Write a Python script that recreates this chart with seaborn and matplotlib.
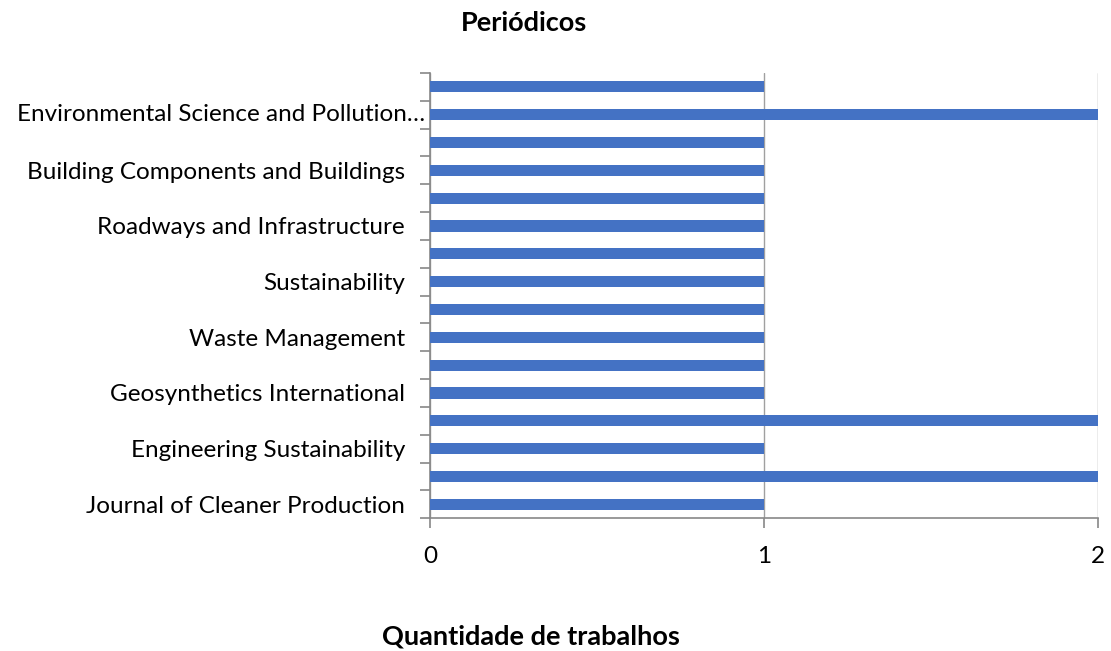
import pandas as pd
import numpy as np
import matplotlib
matplotlib.use('Agg')
import matplotlib.pyplot as plt
import seaborn as sns

# categories top to bottom (Excel only shows every other label)
journals = ['(oculto 1)', 'Environmental Science and Pollution…', '(oculto 2)',
            'Building Components and Buildings', '(oculto 3)', 'Roadways and Infrastructure',
            '(oculto 4)', 'Sustainability', '(oculto 5)', 'Waste Management',
            '(oculto 6)', 'Geosynthetics International', '(oculto 7)',
            'Engineering Sustainability', '(oculto 8)', 'Journal of Cleaner Production']
shown = [False, True] * 8
counts = [1, 2, 1, 1, 1, 1, 1, 1, 1, 1, 1, 1, 2, 1, 2, 1]
x_ticks = [0, 1, 2]

df = pd.DataFrame({'journal': journals, 'count': counts})

sns.set_style('white')
plt.rcParams['font.family'] = ['Lato', 'DejaVu Sans']
plt.rcParams['text.color'] = 'black'

fig = plt.figure(figsize=(11.11, 6.51), dpi=100)
ax = fig.add_axes([0.387, 0.204, 0.601, 0.684])

sns.barplot(data=df, y='journal', x='count', orient='h', color='#4472C4',
            width=0.4, saturation=1, linewidth=0, ax=ax, zorder=3)

ax.set_xlim(0, 2)
ax.set_ylim(len(journals) - 0.5, -0.5)
ax.set_xticks(x_ticks)
ax.set_xticklabels([str(t) for t in x_ticks], fontsize=17.5, color='black')
ax.tick_params(axis='x', bottom=True, length=7, color='#888888', width=1.2, pad=13, direction='out')
ax.xaxis.grid(True, color='#a0a0a0', linewidth=1, zorder=0)

# the long truncated label sits closer to the axis, as Excel draws it
long_label = journals[1]
ax.set_yticks(range(len(journals)))
ax.set_yticklabels([j if (s and j != long_label) else '' for j, s in zip(journals, shown)],
                   fontsize=17.5, color='black')
ax.tick_params(axis='y', which='major', left=False, length=0, pad=18)
ax.set_yticks(np.arange(-0.5, len(journals)), minor=True)
ax.tick_params(axis='y', which='minor', left=True, length=7, color='#888888', width=1.2)
ax.annotate(long_label, xy=(0, 1), xycoords=ax.get_yaxis_transform(),
            xytext=(-5, 0), textcoords='offset pixels', ha='right', va='center',
            fontsize=17.5, color='black')

for s in ['top', 'right']:
    ax.spines[s].set_visible(False)
for s in ['left', 'bottom']:
    ax.spines[s].set_color('#888888')
    ax.spines[s].set_linewidth(1.2)

ax.set_xlabel('')
ax.set_ylabel('')

fig.text(0.472, 0.965, 'Periódicos', ha='center', va='center', fontsize=19.5, fontweight='bold')
fig.text(0.478, 0.023, 'Quantidade de trabalhos', ha='center', va='center', fontsize=19.5, fontweight='bold')

fig.savefig('out.png', dpi=100)
